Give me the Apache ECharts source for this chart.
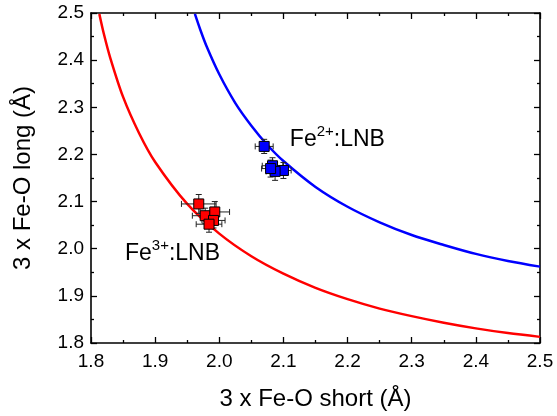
<!DOCTYPE html>
<html>
<head>
<meta charset="utf-8">
<script src="https://cdn.jsdelivr.net/npm/echarts@6/dist/echarts.min.js"></script>
<style>html,body{margin:0;padding:0;background:#fff}#c{width:557px;height:416px}</style>
</head>
<body>
<div id="c"></div>
<script>
// Curve readings
var curveRedX = [1.813, 1.82, 1.83, 1.85, 1.875, 1.9, 1.95, 2.0, 2.05, 2.1, 2.15, 2.2, 2.25, 2.3, 2.35, 2.4, 2.45, 2.5];
var curveRedY = [2.498, 2.456, 2.405, 2.322, 2.245, 2.184, 2.095, 2.032, 1.984, 1.947, 1.917, 1.893, 1.873, 1.857, 1.843, 1.831, 1.821, 1.813];
var curveBlueX = [1.962, 1.97, 1.98, 2.0, 2.025, 2.05, 2.075, 2.1, 2.15, 2.2, 2.25, 2.3, 2.35, 2.4, 2.45, 2.5];
var curveBlueY = [2.498, 2.466, 2.430, 2.370, 2.309, 2.261, 2.220, 2.186, 2.131, 2.089, 2.056, 2.029, 2.008, 1.989, 1.974, 1.962];

// Fe3+:LNB points
var redX = [1.968, 1.978, 1.993, 1.991, 1.984];
var redY = [2.095, 2.070, 2.078, 2.060, 2.052];
var redXErr = [0.027, 0.020, 0.023, 0.018, 0.020];
var redYErr = [0.020, 0.016, 0.022, 0.016, 0.017];

// Fe2+:LNB points
var blueX = [2.070, 2.083, 2.100, 2.087, 2.080];
var blueY = [2.217, 2.176, 2.166, 2.164, 2.170];
var blueXErr = [0.014, 0.016, 0.012, 0.014, 0.014];
var blueYErr = [0.015, 0.017, 0.017, 0.019, 0.018];

// Tick labels
var xTicks = ['1.8','1.9','2.0','2.1','2.2','2.3','2.4','2.5'];
var yTicks = ['1.8','1.9','2.0','2.1','2.2','2.3','2.4','2.5'];

// Annotations
var annText = ['3+', '2+'];
var annX = [1.853, 2.110];
var annY = [1.993, 2.236];

var FONT = '"Liberation Sans", Arial, sans-serif';

function zip(a, b) { return a.map(function (v, i) { return [v, b[i]]; }); }
function errData(x, y, xe, ye) { return x.map(function (v, i) { return [v, y[i], xe[i], ye[i]]; }); }

function errRender(params, api) {
  var x = api.value(0), y = api.value(1), xe = api.value(2), ye = api.value(3);
  var l = api.coord([x - xe, y]), r = api.coord([x + xe, y]);
  var t = api.coord([x, y + ye]), b = api.coord([x, y - ye]);
  var cap = 3;
  var st = { stroke: '#222', lineWidth: 1 };
  return {
    type: 'group',
    children: [
      { type: 'line', shape: { x1: l[0], y1: l[1], x2: r[0], y2: r[1] }, style: st },
      { type: 'line', shape: { x1: l[0], y1: l[1] - cap, x2: l[0], y2: l[1] + cap }, style: st },
      { type: 'line', shape: { x1: r[0], y1: r[1] - cap, x2: r[0], y2: r[1] + cap }, style: st },
      { type: 'line', shape: { x1: t[0], y1: t[1], x2: b[0], y2: b[1] }, style: st },
      { type: 'line', shape: { x1: t[0] - cap, y1: t[1], x2: t[0] + cap, y2: t[1] }, style: st },
      { type: 'line', shape: { x1: b[0] - cap, y1: b[1], x2: b[0] + cap, y2: b[1] }, style: st }
    ]
  };
}

function axisCommon(showLabels) {
  return {
    type: 'value', min: 1.8, max: 2.5, interval: 0.1,
    axisLine: { show: true, onZero: false, lineStyle: { color: '#000', width: 1.6 } },
    axisTick: { show: true, inside: true, length: 6, lineStyle: { color: '#000', width: 1.3 } },
    minorTick: { show: true, splitNumber: 2, length: 3, lineStyle: { color: '#000', width: 1.3 } },
    splitLine: { show: false },
    axisLabel: { show: showLabels, color: '#000', fontFamily: FONT, fontSize: 19 }
  };
}

var chart = echarts.init(document.getElementById('c'), null, { renderer: 'canvas' });

var xb = axisCommon(true);
xb.position = 'bottom';
xb.name = '3 x Fe-O short (Å)';
xb.nameLocation = 'middle';
xb.nameGap = 44;
xb.nameTextStyle = { color: '#000', fontFamily: FONT, fontSize: 24 };
xb.axisLabel.margin = 9;
xb.axisLabel.formatter = function (v) { var i = Math.round((v - 1.8) * 10); return xTicks[i]; };

var xt = axisCommon(false);
xt.position = 'top';

var yl = axisCommon(true);
yl.position = 'left';
yl.name = '3 x Fe-O long (Å)';
yl.nameLocation = 'middle';
yl.nameGap = 56;
yl.nameTextStyle = { color: '#000', fontFamily: FONT, fontSize: 24 };
yl.axisLabel.margin = 7;
yl.axisLabel.formatter = function (v) { var i = Math.round((v - 1.8) * 10); return yTicks[i]; };

var yr = axisCommon(false);
yr.position = 'right';

chart.setOption({
  animation: false,
  backgroundColor: '#fff',
  grid: { left: 91, right: 17, top: 13, bottom: 72 },
  xAxis: [xb, xt],
  yAxis: [yl, yr],
  series: [
    { type: 'line', data: zip(curveRedX, curveRedY), showSymbol: false, smooth: 0.3,
      lineStyle: { color: '#ff0000', width: 2.5 }, z: 2 },
    { type: 'line', data: zip(curveBlueX, curveBlueY), showSymbol: false, smooth: 0.3,
      lineStyle: { color: '#0000ff', width: 2.5 }, z: 2 },
    { type: 'custom', renderItem: errRender, data: errData(redX, redY, redXErr, redYErr), z: 3, encode: { x: 0, y: 1 } },
    { type: 'custom', renderItem: errRender, data: errData(blueX, blueY, blueXErr, blueYErr), z: 3, encode: { x: 0, y: 1 } },
    { type: 'scatter', data: zip(redX, redY), symbol: 'rect', symbolSize: 10,
      itemStyle: { color: '#ff0000', borderColor: '#000', borderWidth: 1, opacity: 1 }, z: 4 },
    { type: 'scatter', data: zip(blueX, blueY), symbol: 'rect', symbolSize: 10,
      itemStyle: { color: '#0000ff', borderColor: '#000', borderWidth: 1, opacity: 1 }, z: 4 }
  ]
});

var gfx = annX.map(function (x, i) {
  var p = chart.convertToPixel({ xAxisIndex: 0, yAxisIndex: 0 }, [x, annY[i]]);
  return {
    type: 'text', x: p[0], y: p[1], z: 10,
    style: {
      text: '{a|Fe}{s|' + annText[i] + '}{a|:LNB}',
      verticalAlign: 'middle', align: 'left',
      rich: {
        a: { fontFamily: FONT, fontSize: 23, fill: '#000', lineHeight: 27, verticalAlign: 'bottom' },
        s: { fontFamily: FONT, fontSize: 15, fill: '#000', lineHeight: 27, verticalAlign: 'top' }
      }
    }
  };
});
chart.setOption({ graphic: gfx });
</script>
</body>
</html>
